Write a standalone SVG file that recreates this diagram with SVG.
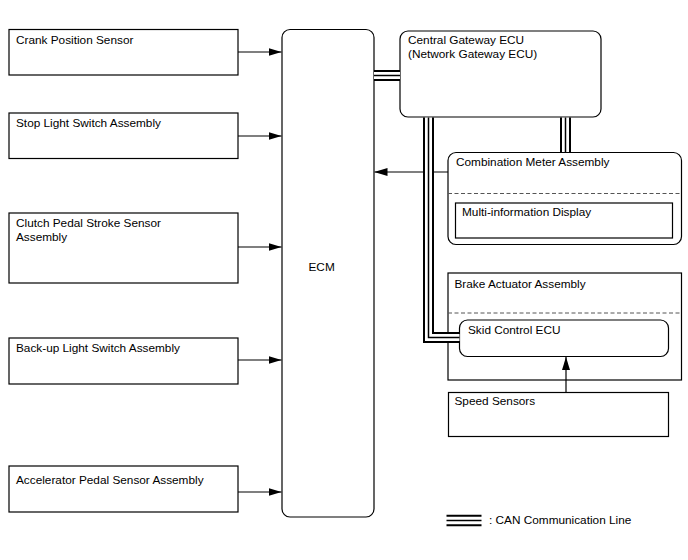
<svg xmlns="http://www.w3.org/2000/svg" width="688" height="560" viewBox="0 0 688 560">
<defs>
<style>
.box{fill:#fff;stroke:#000;stroke-width:1.2}
.t{font-family:"Liberation Sans",Arial,sans-serif;font-size:11.8px;fill:#000}
.ln{fill:none;stroke:#000;stroke-width:1.2}
.dash{fill:none;stroke:#555;stroke-width:1;stroke-dasharray:4,2.5}
.canO{fill:none;stroke:#000;stroke-width:11;stroke-linejoin:miter}
.canW{fill:none;stroke:#fff;stroke-width:7;stroke-linejoin:miter}
.canI{fill:none;stroke:#000;stroke-width:1.5;stroke-linejoin:miter}
</style>
<marker id="ah" viewBox="0 0 13 8" refX="13" refY="4" markerWidth="13" markerHeight="8" markerUnits="userSpaceOnUse" orient="auto">
<path d="M0,0 L13,4 L0,8 Z" fill="#000"/>
</marker>
</defs>
<rect width="688" height="560" fill="#fff"/>

<g id="crank">
<rect class="box" x="9" y="29.5" width="229" height="45.5"/>
<text class="t" x="16" y="44">Crank Position Sensor</text>
</g>
<g id="stop">
<rect class="box" x="9" y="113" width="229" height="45.5"/>
<text class="t" x="16" y="127">Stop Light Switch Assembly</text>
</g>
<g id="clutch">
<rect class="box" x="9" y="213" width="229" height="70"/>
<text class="t" x="16" y="227">Clutch Pedal Stroke Sensor</text>
<text class="t" x="16" y="241">Assembly</text>
</g>
<g id="backup">
<rect class="box" x="9" y="338" width="229" height="46"/>
<text class="t" x="16" y="352">Back-up Light Switch Assembly</text>
</g>
<g id="accel">
<rect class="box" x="9" y="466" width="229" height="46"/>
<text class="t" x="16" y="484">Accelerator Pedal Sensor Assembly</text>
</g>
<g id="ecm">
<rect class="box" x="282" y="29.5" width="92" height="487.5" rx="8"/>
<text class="t" x="308.5" y="271">ECM</text>
</g>
<g id="gateway">
<rect class="box" x="400" y="31" width="201" height="86" rx="8"/>
<text class="t" x="408" y="43.5">Central Gateway ECU</text>
<text class="t" x="408" y="57.5">(Network Gateway ECU)</text>
</g>
<g id="combination-meter">
<rect class="box" x="448" y="152.5" width="233.5" height="92" rx="8"/>
<text class="t" x="456" y="166">Combination Meter Assembly</text>
<line class="dash" x1="448" y1="193.5" x2="681.5" y2="193.5"/>
</g>
<g id="multi-info">
<rect class="box" x="455.5" y="203" width="217" height="35"/>
<text class="t" x="462" y="215.5">Multi-information Display</text>
</g>
<g id="brake-actuator">
<rect class="box" x="448" y="273" width="233.5" height="107"/>
<text class="t" x="454.5" y="287.5">Brake Actuator Assembly</text>
<line class="dash" x1="448" y1="313" x2="681.5" y2="313"/>
</g>
<g id="skid">
<rect class="box" x="459.5" y="320" width="209" height="36.5" rx="8"/>
<text class="t" x="468" y="333.5">Skid Control ECU</text>
</g>
<g id="speed">
<rect class="box" x="448.5" y="392.5" width="220" height="44"/>
<text class="t" x="454.5" y="405">Speed Sensors</text>
</g>

<g id="connectors">
<path class="ln" d="M238,52 H281.5" marker-end="url(#ah)"/>
<path class="ln" d="M238,136 H281.5" marker-end="url(#ah)"/>
<path class="ln" d="M238,247 H281.5" marker-end="url(#ah)"/>
<path class="ln" d="M238,360 H281.5" marker-end="url(#ah)"/>
<path class="ln" d="M238,492 H281.5" marker-end="url(#ah)"/>
<path class="ln" d="M448,172 H374.5" marker-end="url(#ah)"/>
<path class="ln" d="M566,392 V357" marker-end="url(#ah)"/>
<g id="can-lines">
<path class="canO" d="M374,75.5 H400"/>
<path class="canW" d="M374,75.5 H400"/>
<path class="canI" d="M374,75.5 H400"/>
<path class="canO" d="M565.5,117.5 V152"/>
<path class="canW" d="M565.5,117.5 V152"/>
<path class="canI" d="M565.5,117.5 V152"/>
<path class="canO" d="M428.5,117.5 V337.5 H459.5"/>
<path class="canW" d="M428.5,117.5 V337.5 H459.5"/>
<path class="canI" d="M428.5,117.5 V337.5 H459.5"/>
</g>
</g>

<g id="legend">
<line x1="446.5" y1="515.8" x2="481.5" y2="515.8" stroke="#000" stroke-width="2"/>
<line x1="446.5" y1="520.5" x2="481.5" y2="520.5" stroke="#000" stroke-width="1.5"/>
<line x1="446.5" y1="525.3" x2="481.5" y2="525.3" stroke="#000" stroke-width="2"/>
<text class="t" x="489" y="524">: CAN Communication Line</text>
</g>
</svg>
